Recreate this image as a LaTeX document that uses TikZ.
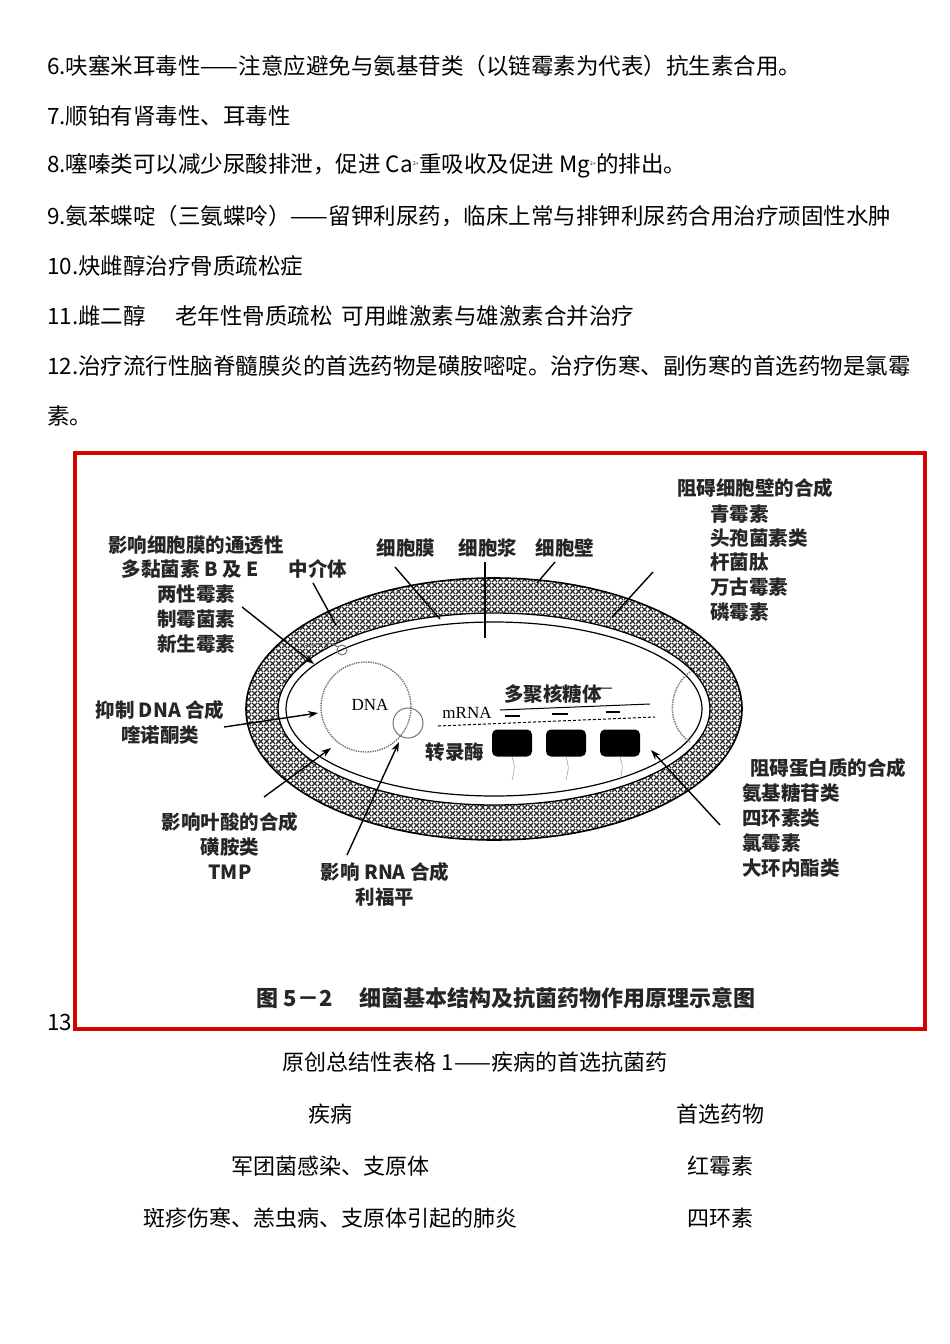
\documentclass[tikz,border=0pt]{standalone}
\usepackage{fontspec}
\setmainfont{Liberation Serif}
\newfontfamily\cjk{Noto Sans CJK SC}
\usetikzlibrary{patterns,arrows.meta}
\pgfdeclarepatternformonly{bighatch}{\pgfpointorigin}{\pgfpoint{6pt}{6pt}}{\pgfpoint{6pt}{6pt}}{%
  \pgfsetlinewidth{1.3pt}
  \pgfpathmoveto{\pgfpoint{0pt}{0pt}}\pgfpathlineto{\pgfpoint{6pt}{6pt}}
  \pgfpathmoveto{\pgfpoint{0pt}{6pt}}\pgfpathlineto{\pgfpoint{6pt}{0pt}}
  \pgfusepath{stroke}}
\begin{document}
\begin{tikzpicture}[x=1pt,y=-1pt,
  txt/.style={font=\cjk\fontsize{22.5}{23}\selectfont,anchor=west,inner sep=0},
  cen/.style={font=\cjk\fontsize{22}{22}\selectfont,inner sep=0},
  lab/.style={font=\cjk\bfseries\fontsize{19.5}{20}\selectfont,inner sep=0,text=black!85},
  ptr/.style={line width=1.4pt},
  arr/.style={line width=1.4pt,-{Stealth[length=10pt,width=7pt]}}]
\useasboundingbox (0,0) rectangle (950,1344);
\fill[white] (0,0) rectangle (950,1344);
\node[txt] (l6) at (47,66) {6.呋塞米耳毒性——注意应避免与氨基苷类（以链霉素为代表）抗生素合用。};
\node[txt] (l7) at (47,116) {7.顺铂有肾毒性、耳毒性};
\node[txt] (l8) at (47,166) {8.噻嗪类可以减少尿酸排泄，促进 Ca\textsuperscript{\tiny 2+}重吸收及促进 Mg\textsuperscript{\tiny 2+}的排出。};
\node[txt] (l9) at (47,216) {9.氨苯蝶啶（三氨蝶呤）——留钾利尿药，临床上常与排钾利尿药合用治疗顽固性水肿};
\node[txt] (l10) at (47,266) {10.炔雌醇治疗骨质疏松症};
\node[txt] (l11) at (47,316) {11.雌二醇\hspace{1.3em}老年性骨质疏松\hspace{0.4em}可用雌激素与雄激素合并治疗};
\node[txt] (l12) at (47,366) {12.治疗流行性脑脊髓膜炎的首选药物是磺胺嘧啶。治疗伤寒、副伤寒的首选药物是氯霉};
\node[txt] (l12b) at (47,416) {素。};
\node[txt] (l13) at (47,1022) {13.};
% red frame
\draw[red!85!black,line width=4pt] (75,453) rectangle (925,1029);
% cell
\path[pattern=bighatch,pattern color=black!85,even odd rule] (494,709) ellipse [x radius=248,y radius=131] (494,709) ellipse [x radius=216,y radius=96];
\draw[line width=1.6pt] (494,709) ellipse [x radius=248,y radius=131];
\draw[line width=1.3pt] (494,709) ellipse [x radius=216,y radius=96];
\draw[line width=1.2pt] (494,709) ellipse [x radius=208,y radius=87];
% DNA
\node[circle,draw=black!55,densely dotted,line width=1.4pt,minimum size=90pt] (dnac) at (366,707) {};
\node[circle,draw=black!55,line width=1pt,minimum size=30pt] (dnas) at (408,723) {};
\node[circle,draw=black!55,line width=1pt,minimum size=10pt] (meso) at (342,650) {};
\draw[black!60,line width=1pt] (meso) .. controls (330,642) .. (305,646);
\node[font=\fontsize{17}{17}\selectfont,inner sep=0] (dna) at (370,705) {DNA};
\node[font=\fontsize{17}{17}\selectfont,inner sep=0] (mrna) at (467,713) {mRNA};
\node[lab] (poly) at (553,694) {多聚核糖体};
\node[lab] (trans) at (455,752) {转录酶};
\draw[densely dashed,line width=1pt] (438,726) -- (655,717);
\draw[line width=1.6pt] (505,716) -- (520,716) (552,714) -- (568,714) (606,712) -- (620,712);
\draw[line width=1pt] (500,710) -- (650,704) (598,688) -- (612,688);
\foreach \n/\x in {r1/512,r2/566,r3/620}{
  \node[fill=black,rounded corners=5pt,minimum width=40pt,minimum height=27pt,inner sep=0] (\n) at (\x,743) {};
  \draw[black!50] (\x,757) .. controls (\x+3,767) .. (\x,780);}
\draw[black!50,densely dotted,line width=1.5pt] (690,672) .. controls (668,688) and (665,725) .. (690,742);
% labels
\node[lab] (wall) at (755,488) {阻碍细胞壁的合成};
\node[lab,anchor=west] (w1) at (710,514) {青霉素};
\node[lab,anchor=west] (w2) at (710,538) {头孢菌素类};
\node[lab,anchor=west] (w3) at (710,562) {杆菌肽};
\node[lab,anchor=west] (w4) at (710,587) {万古霉素};
\node[lab,anchor=west] (w5) at (710,612) {磷霉素};
\node[lab] (memb) at (196,545) {影响细胞膜的通透性};
\node[lab] (m1) at (190,569) {多黏菌素 B 及 E};
\node[lab] (meso2) at (318,569) {中介体};
\node[lab] (m2) at (196,594) {两性霉素};
\node[lab] (m3) at (196,619) {制霉菌素};
\node[lab] (m4) at (196,644) {新生霉素};
\node[lab] (cm) at (406,548) {细胞膜};
\node[lab] (cp) at (488,548) {细胞浆};
\node[lab] (cw) at (565,548) {细胞壁};
\node[lab] (dnai) at (160,710) {抑制 DNA 合成};
\node[lab] (dnai2) at (160,735) {喹诺酮类};
\node[lab] (prot) at (828,768) {阻碍蛋白质的合成};
\node[lab,anchor=west] (p1) at (742,793) {氨基糖苷类};
\node[lab,anchor=west] (p2) at (742,818) {四环素类};
\node[lab,anchor=west] (p3) at (742,843) {氯霉素};
\node[lab,anchor=west] (p4) at (742,868) {大环内酯类};
\node[lab] (fol) at (230,822) {影响叶酸的合成};
\node[lab] (fol2) at (230,847) {磺胺类};
\node[lab] (fol3) at (230,872) {TMP};
\node[lab] (rna) at (385,872) {影响 RNA 合成};
\node[lab] (rna2) at (385,897) {利福平};
\node[lab,font=\cjk\bfseries\fontsize{22}{22}\selectfont] (cap) at (506,998) {图 5－2\hspace{1.2em}细菌基本结构及抗菌药物作用原理示意图};
% pointers
\coordinate (a1) at (314,664); \coordinate (a2) at (318,713);
\coordinate (a3) at (331,748); \coordinate (a4) at (399,742);
\coordinate (a5) at (651,750);
\draw[arr] (242,607) -- (a1);
\draw[arr] (224,727) -- (a2);
\draw[arr] (264,797) -- (a3);
\draw[arr] (347,855) -- (a4);
\draw[arr] (720,825) -- (a5);
\coordinate (c1) at (440,619); \coordinate (c2) at (485,638);
\coordinate (c3) at (537,583); \coordinate (c4) at (612,617); \coordinate (c5) at (336,625);
\draw[ptr] (395,567) -- (c1);
\draw[ptr] (485,562) -- (c2);
\draw[ptr] (555,562) -- (c3);
\draw[ptr] (653,572) -- (c4);
\draw[ptr] (313,583) -- (c5);
% table
\node[cen] (tt) at (475,1062) {原创总结性表格 1——疾病的首选抗菌药};
\node[cen] (h1) at (330,1114) {疾病};
\node[cen] (h2) at (720,1114) {首选药物};
\node[cen] (r1a) at (330,1166) {军团菌感染、支原体};
\node[cen] (r1b) at (720,1166) {红霉素};
\node[cen] (r2a) at (330,1218) {斑疹伤寒、恙虫病、支原体引起的肺炎};
\node[cen] (r2b) at (720,1218) {四环素};
\end{tikzpicture}
\end{document}
